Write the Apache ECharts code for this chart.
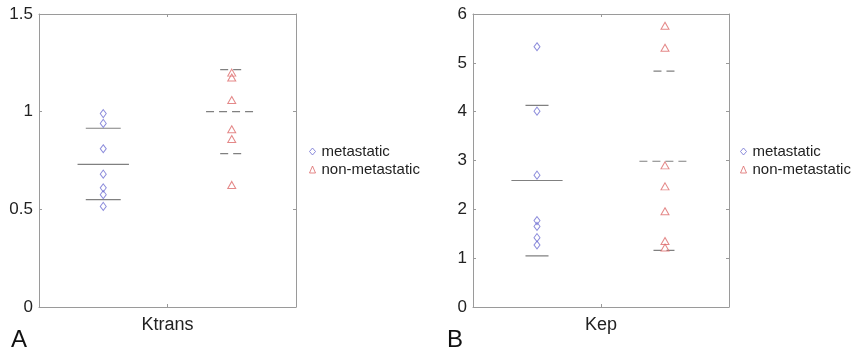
<!DOCTYPE html>
<html>
<head>
<meta charset="utf-8">
<script src="https://cdn.jsdelivr.net/npm/echarts@6/dist/echarts.min.js"></script>
<style>
html,body{margin:0;padding:0;background:#fff;}
#c{width:860px;height:356px;}
</style>
</head>
<body>
<div id="c"></div>
<script>
// ---- data ----
const groups = ['metastatic', 'non-metastatic'];
const groupX = [0.25, 0.75];
const panelNames = ['Ktrans', 'Kep'];
const panelLetters = ['A', 'B'];

const ktransMet = [0.99, 0.94, 0.81, 0.68, 0.61, 0.575, 0.515];
const ktransNon = [1.20, 1.175, 1.06, 0.91, 0.86, 0.625];
// [lower, mean, upper]
const ktransMetStats = [0.55, 0.73, 0.915];
const ktransNonStats = [0.785, 1.0, 1.215];

const kepMet = [5.33, 4.01, 2.70, 1.77, 1.65, 1.42, 1.27];
const kepNon = [5.76, 5.31, 2.90, 2.47, 1.96, 1.35, 1.22];
const kepMetStats = [1.045, 2.59, 4.13];
const kepNonStats = [1.16, 2.985, 4.83];

const yMax = [1.5, 6];
const yInterval = [0.5, 1];

// ---- style ----
const FONT = 'Liberation Sans, Arial, Helvetica, sans-serif';
const COL_MET = '#6f6fd2';
const COL_NON = '#dd6a6a';
const COL_LINE = '#808080';
const COL_BOX = '#9a9a9a';
const grids = [
  {left: 39, top: 14, width: 257, height: 293},
  {left: 473, top: 14, width: 256, height: 293}
];
const halfW = [
  {mean: 0.1, sdMet: 0.068, sdNon: 0.045},
  {mean: 0.1, sdMet: 0.045, sdNon: 0.045}
];

const panelData = [
  {met: ktransMet, non: ktransNon, metS: ktransMetStats, nonS: ktransNonStats},
  {met: kepMet, non: kepNon, metS: kepMetStats, nonS: kepNonStats}
];

const xAxis = [], yAxis = [], series = [], legend = [], graphic = [];

const boxLine = {show: true, onZero: false, lineStyle: {color: COL_BOX, width: 1}};
const inTick = {show: true, inside: true, length: 3, lineStyle: {color: COL_BOX}};

panelData.forEach((p, i) => {
  const xb = i * 2, yb = i * 2;
  xAxis.push({
    gridIndex: i, type: 'value', min: 0, max: 1, interval: 0.5, position: 'bottom',
    name: panelNames[i], nameLocation: 'middle', nameGap: 9,
    nameTextStyle: {fontFamily: FONT, fontSize: 18, color: '#222', verticalAlign: 'top'},
    axisLine: boxLine, axisTick: inTick,
    axisLabel: {show: false}, splitLine: {show: false}
  });
  xAxis.push({
    gridIndex: i, type: 'value', min: 0, max: 1, interval: 0.5, position: 'top',
    axisLine: boxLine, axisTick: inTick,
    axisLabel: {show: false}, splitLine: {show: false}
  });
  yAxis.push({
    gridIndex: i, type: 'value', min: 0, max: yMax[i], interval: yInterval[i], position: 'left',
    axisLine: boxLine, axisTick: inTick,
    axisLabel: {fontFamily: FONT, fontSize: 17, color: '#222', margin: 6},
    splitLine: {show: false}
  });
  yAxis.push({
    gridIndex: i, type: 'value', min: 0, max: yMax[i], interval: yInterval[i], position: 'right',
    axisLine: boxLine, axisTick: inTick,
    axisLabel: {show: false}, splitLine: {show: false}
  });

  series.push({
    name: groups[0], type: 'scatter', xAxisIndex: xb, yAxisIndex: yb,
    symbol: 'diamond', symbolSize: [6, 8],
    itemStyle: {color: 'rgba(255,255,255,0)', borderColor: COL_MET, borderWidth: 1},
    data: p.met.map(v => [groupX[0], v]), z: 5
  });
  series.push({
    name: groups[1], type: 'scatter', xAxisIndex: xb, yAxisIndex: yb,
    symbol: 'triangle', symbolSize: [8, 7],
    itemStyle: {color: 'rgba(255,255,255,0)', borderColor: COL_NON, borderWidth: 1},
    data: p.non.map(v => [groupX[1], v]), z: 5
  });

  const addLines = (stats, xc, sdHalf, dashed) => {
    stats.forEach((v, k) => {
      const h = k === 1 ? halfW[i].mean : sdHalf;
      series.push({
        type: 'line', xAxisIndex: xb, yAxisIndex: yb, silent: true,
        showSymbol: false, symbol: 'none',
        lineStyle: {color: COL_LINE, width: 1.2, type: dashed ? [8, 5] : 'solid'},
        data: [[xc - h, v], [xc + h, v]], z: 3
      });
    });
  };
  addLines(p.metS, groupX[0], halfW[i].sdMet, false);
  addLines(p.nonS, groupX[1], halfW[i].sdNon, true);

  legend.push({
    orient: 'vertical',
    left: i === 0 ? 304 : 735, top: 139,
    itemWidth: 6, itemHeight: 7, itemGap: 3,
    selectedMode: false,
    itemStyle: {borderWidth: 1},
    textStyle: {fontFamily: FONT, fontSize: 15, color: '#222', lineHeight: 15, padding: [0, 0, 0, 1]},
    data: groups.slice()
  });

  graphic.push({
    type: 'text', left: i === 0 ? 11 : 447, top: 328,
    style: {text: panelLetters[i], font: '24px ' + FONT, fill: '#111'}
  });
});

const chart = echarts.init(document.getElementById('c'), null, {renderer: 'canvas'});
chart.setOption({
  animation: false,
  backgroundColor: '#fff',
  grid: grids,
  xAxis, yAxis, series, legend, graphic
});
</script>
</body>
</html>
